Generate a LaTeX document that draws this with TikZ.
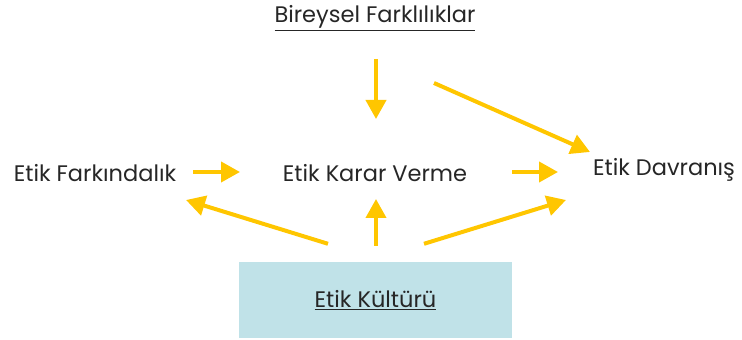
\documentclass[tikz,border=0pt]{standalone}
\usepackage{fontspec}
\setmainfont{Poppins}
\usetikzlibrary{arrows.meta}
\definecolor{sari}{RGB}{255,198,0}
\definecolor{mavi}{RGB}{192,226,232}
\definecolor{yazi}{RGB}{38,38,38}
\begin{document}
\begin{tikzpicture}[x=1pt, y=1pt,
	ok/.style={draw=sari, line width=4pt, -{Triangle[length=19pt, width=20pt]}},
	yazi/.style={text=yazi, font=\fontsize{22.5}{26}\selectfont, inner sep=0pt}]
	\useasboundingbox (0, 0) rectangle (742, 340);
	\node[yazi] (bireysel) at (375, 322) {\underline{Bireysel Farklılıklar}};
	\node[yazi] (farkind) at (95, 167) {Etik Farkındalık};
	\node[yazi] (karar) at (375, 167) {Etik Karar Verme};
	\node[yazi] (davranis) at (664, 170) {Etik Davranış};
	\node[yazi, fill=mavi, minimum width=273pt, minimum height=76pt] (kultur) at (375.5, 40) {\underline{Etik Kültürü}};
	\draw[ok] ([xshift=1pt, yshift=-41pt]bireysel.center) -- ([xshift=1pt, yshift=54pt]karar.center);
	\draw[ok] ([xshift=59pt, yshift=-65pt]bireysel.center) -- ([xshift=-74pt, yshift=18pt]davranis.center);
	\draw[ok] ([xshift=98pt, yshift=1pt]farkind.center) -- ([xshift=-135pt, yshift=1pt]karar.center);
	\draw[ok] ([xshift=137pt, yshift=1pt]karar.center) -- ([xshift=-106pt, yshift=-2pt]davranis.center);
	\draw[ok] ([xshift=-47.5pt, yshift=18pt]kultur.north) -- ([xshift=91pt, yshift=-27pt]farkind.center);
	\draw[ok] ([xshift=0.5pt, yshift=16pt]kultur.north) -- ([xshift=1pt, yshift=-26pt]karar.center);
	\draw[ok] ([xshift=48.5pt, yshift=18pt]kultur.north) -- ([xshift=-98pt, yshift=-30pt]davranis.center);
\end{tikzpicture}
\end{document}
